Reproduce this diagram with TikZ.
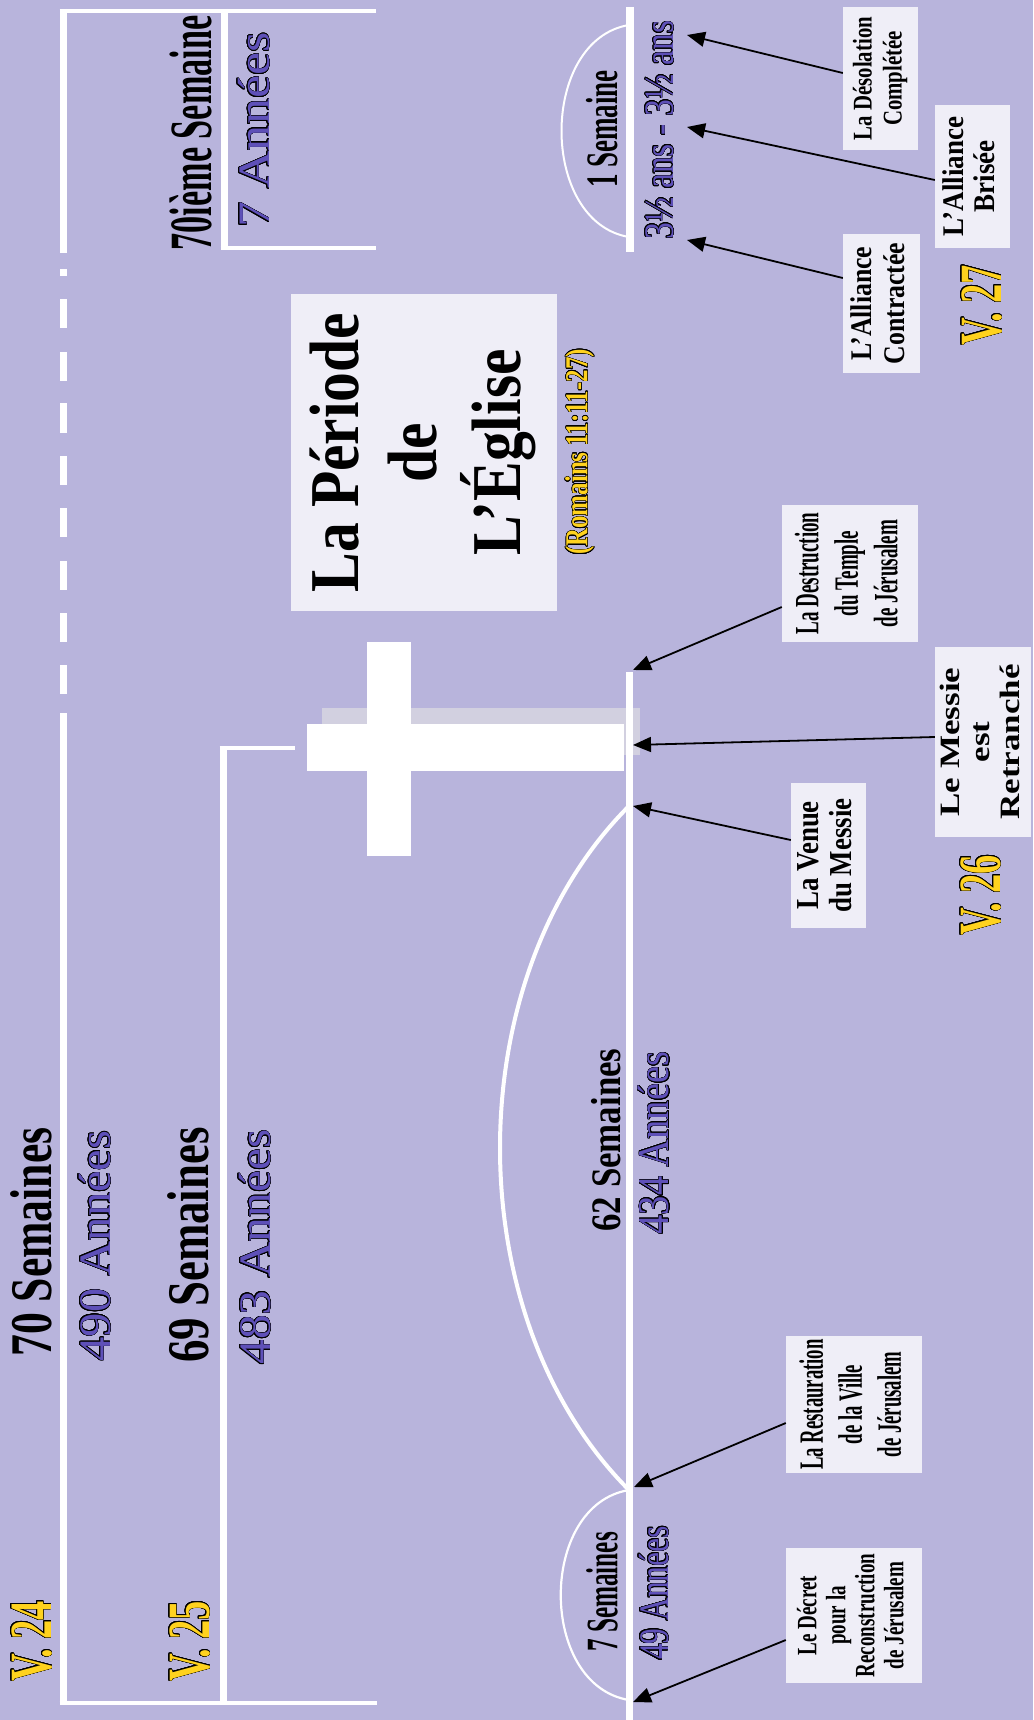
\documentclass[tikz,border=0pt]{standalone}
\usepackage{fontspec}
\setmainfont{Liberation Serif}
\usepackage{graphicx}
\usepackage{contour}
\contourlength{0.55pt}
\contournumber{24}
\usetikzlibrary{arrows.meta,calc}
\definecolor{bgc}{HTML}{B8B4DC}
\definecolor{boxc}{HTML}{EFEEF7}
\definecolor{pur}{HTML}{5E50B8}
\definecolor{yel}{HTML}{FFD21E}
\definecolor{shad}{HTML}{D2D0E0}
\newcommand\Tx[3]{\scalebox{#1}[1]{\fontsize{#2}{#2}\selectfont #3}}
\newcommand\Tm[4]{\scalebox{#1}[1]{\fontsize{#2}{#3}\selectfont\begin{tabular}{@{}c@{}}#4\end{tabular}}}
\newcommand\Pu[1]{\textcolor{pur}{\contour{black}{#1}}}
\newcommand\Ye[1]{\textcolor{yel}{\contour{black}{#1}}}
\tikzset{
  lbl/.style={rotate=90, inner sep=0pt, text=black, font=\bfseries},
  plbl/.style={rotate=90, inner sep=0pt, font=\mdseries},
  tbox/.style={rotate=90, fill=boxc, inner sep=0pt, align=center, text=black, font=\bfseries},
  wv/.style={white, line width=7pt},
  wh/.style={white, line width=4pt},
  arr/.style={-{Triangle[length=18pt,width=15pt]}, line width=1.8pt, black}
}
\begin{document}
\begin{tikzpicture}[x=1pt,y=-1pt]
\useasboundingbox (0,0) rectangle (1033,1720);
\fill[bgc] (0,0) rectangle (1033,1720);

% brackets
\draw[wv] (63,9) -- (63,253);
\foreach \a/\b in {269/276,299/328,352/381,403/433,456/485,508/537,561/590,613/642,665/694}
  \draw[wv] (63,\a) -- (63,\b);
\draw[wv] (63,713) -- (63,1705);
\draw[wh] (59.5,11) -- (376,11);
\draw[wv] (224,9) -- (224,250);
\draw[wh] (220.5,248) -- (376,248);
\draw[wh] (219.5,748) -- (295,748);
\draw[wv] (223,746) -- (223,1705);
\draw[wh] (59.5,1703) -- (377,1703);

% cross
\fill[shad] (322,708) rectangle (640,755);
\fill[white] (367,642) rectangle (411,856);
\fill[white] (307,724) rectangle (624,771);

% timelines
\draw[white, line width=8pt] (630,7) -- (630,252);
\draw[wv] (629,672) -- (629,1720);
\draw[white, line width=2pt] (629,25) .. controls (539,40) and (539,222) .. (629,237);
\draw[white, line width=2.2pt] (629,1490) .. controls (538,1505) and (538,1685) .. (629,1700);
\draw[white, line width=4pt] (629,1490) .. controls (457,1318) and (457,978) .. (629,806);

% left texts
\node[lbl] (s70) at (31,1242) {\Tx{0.74}{59}{70 Semaines}};
\node[plbl] (a490) at (95,1246) {\Pu{\Tx{1.08}{45}{490 Années}}};
\node[lbl] (s69) at (188,1245) {\Tx{0.76}{59}{69 Semaines}};
\node[plbl] (a483) at (255,1247) {\Pu{\Tx{1.1}{45}{483 Années}}};
\node[lbl] (v24) at (32,1641) {\Ye{\Tx{0.64}{60}{V. 24}}};
\node[lbl] (v25) at (190,1641) {\Ye{\Tx{0.64}{60}{V. 25}}};
\node[lbl] (s70i) at (191,133) {\Tx{0.57}{60}{70ième Semaine}};
\node[plbl] (a7) at (254,130) {\Pu{\Tx{1.16}{45}{7 Années}}};

% church period
\node[tbox, minimum width=317pt, minimum height=266pt] (egbox) at (424,452.5)
  {\Tm{0.85}{70}{78}{La Période\\de\\L'Église}};
\node[lbl] (rom) at (580,452) {\Ye{\Tx{0.78}{32}{(Romains 11:11-27)}}};

% timeline texts
\node[lbl] (s1) at (602,129) {\Tx{0.6}{45}{1 Semaine}};
\node[plbl] (ans) at (660,130) {\Pu{\Tx{0.8}{42}{3½ ans - 3½ ans}}};
\node[lbl] (s62) at (606,1140) {\Tx{0.83}{42}{62 Semaines}};
\node[plbl] (a434) at (654,1143) {\Pu{\Tx{0.875}{44}{434 Années}}};
\node[lbl] (s7) at (602,1592) {\Tx{0.56}{45}{7 Semaines}};
\node[plbl] (a49) at (654,1593) {\Pu{\Tx{0.75}{42}{49 Années}}};

% event boxes
\node[tbox, minimum width=143pt, minimum height=75pt] (bDes) at (880.5,78.5)
  {\Tm{0.77}{27}{30}{La Désolation\\Complétée}};
\node[tbox, minimum width=143pt, minimum height=75pt] (bBri) at (972.5,176.5)
  {\Tm{0.9}{30}{31}{L'Alliance\\Brisée}};
\node[tbox, minimum width=139pt, minimum height=77pt] (bCon) at (881.5,303.5)
  {\Tm{0.86}{30}{33}{L'Alliance\\Contractée}};
\node[tbox, minimum width=137pt, minimum height=136pt] (bDest) at (850,573.5)
  {\Tm{0.56}{34}{39.5}{La Destruction\\du Temple\\de Jérusalem}};
\node[tbox, minimum width=190pt, minimum height=96pt] (bRet) at (983,742)
  {\Tm{1.25}{28}{30}{Le Messie\\est\\Retranché}};
\node[tbox, minimum width=145pt, minimum height=75pt] (bVen) at (828.5,855.5)
  {\Tm{0.84}{32}{33}{La Venue\\du Messie}};
\node[tbox, minimum width=137pt, minimum height=136pt] (bRes) at (854,1404.5)
  {\Tm{0.55}{34}{39}{La Restauration\\de la Ville\\de Jérusalem}};
\node[tbox, minimum width=135pt, minimum height=136pt] (bDec) at (854,1615.5)
  {\Tm{0.68}{28}{29}{Le Décret\\pour la\\Reconstruction\\de Jérusalem}};

\node[lbl] (v26) at (981,895) {\Ye{\Tx{0.64}{60}{V. 26}}};
\node[lbl] (v27) at (982,305) {\Ye{\Tx{0.64}{60}{V. 27}}};

% arrow targets
\coordinate (tDes) at (687,35);
\coordinate (tBri) at (687,127);
\coordinate (tCon) at (687,240);
\coordinate (tDest) at (633,670);
\coordinate (tRet) at (633,745);
\coordinate (tVen) at (633,806);
\coordinate (tRes) at (634,1487);
\coordinate (tDec) at (633,1702);

\draw[arr] ([yshift=5.5pt]bDes.north) -- (tDes);
\draw[arr] ([yshift=-3.5pt]bBri.north) -- (tBri);
\draw[arr] ([yshift=25.5pt]bCon.north) -- (tCon);
\draw[arr] ([yshift=-33.5pt]bDest.north) -- (tDest);
\draw[arr] ([yshift=5pt]bRet.north) -- (tRet);
\draw[arr] ([yshift=15.5pt]bVen.north) -- (tVen);
\draw[arr] ([yshift=-18.5pt]bRes.north) -- (tRes);
\draw[arr] ([yshift=-24.5pt]bDec.north) -- (tDec);
\end{tikzpicture}
\end{document}
